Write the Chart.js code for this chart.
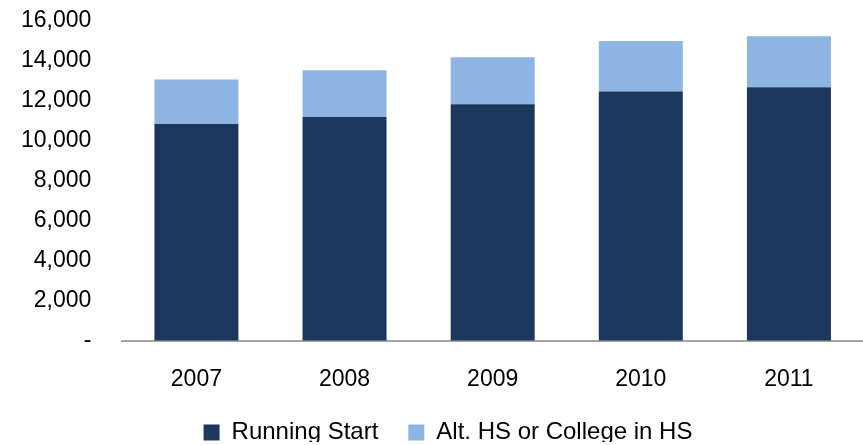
<!DOCTYPE html>
<html>
<head>
<meta charset="utf-8">
<script src="https://cdn.jsdelivr.net/npm/chart.js@4"></script>
<style>
  html, body { margin: 0; padding: 0; background: #fff; }
  #wrap { width: 863px; height: 445px; }
</style>
</head>
<body>
<div id="wrap"><canvas id="myChart"></canvas></div>
<script>
//Years on the x axis
const years = ['2007', '2008', '2009', '2010', '2011'];
//Running Start (dark part of each bar)
const runningStart = [10850, 11200, 11835, 12470, 12685];
//Alt. HS or College in HS (light part stacked on top)
const altHS = [2220, 2335, 2350, 2530, 2550];
//y axis ticks
const yTicks = [0, 2000, 4000, 6000, 8000, 10000, 12000, 14000, 16000];

const COLORS = {
  navy: 'rgb(27, 55, 94)',
  lightblue: 'rgb(142, 180, 227)'
};

Chart.defaults.font.family = "'Liberation Sans', Arial, sans-serif";
Chart.defaults.color = '#000';

//legend padding also spaces the items apart, so keep its box small and nudge it
const legendHeight = 51.4;
const legendShiftY = -3;
const legendShiftX = 6;
const legendFix = {
  id: 'legendFix',
  beforeInit(chart) {
    const fit = chart.legend.fit;
    chart.legend.fit = function() {
      fit.bind(chart.legend)();
      this.height = legendHeight;
    };
  },
  afterLayout(chart) {
    chart.legend.top += legendShiftY;
    chart.legend.bottom += legendShiftY;
    chart.legend.left += legendShiftX;
    chart.legend.right += legendShiftX;
  }
};

const data = {
  labels: years,
  datasets: [
    {
      label: 'Running Start',
      data: runningStart,
      backgroundColor: COLORS.navy
    },
    {
      label: 'Alt. HS or College in HS',
      data: altHS,
      backgroundColor: COLORS.lightblue
    }
  ]
};

const config = {
  type: 'bar',
  data: data,
  options: {
    responsive: true,
    maintainAspectRatio: false,
    animation: false,
    layout: {
      padding: { left: 21, right: 0, top: 21, bottom: 0 }
    },
    datasets: {
      bar: { barPercentage: 0.567, categoryPercentage: 1 }
    },
    scales: {
      x: {
        stacked: true,
        //invisible ticks give the gap under the axis line
        grid: { display: true, drawOnChartArea: false, drawTicks: true, tickLength: 25, tickColor: 'rgba(0,0,0,0)' },
        border: { display: true, color: '#a3a3a3', width: 2 },
        ticks: { padding: 0, font: { size: 23 } }
      },
      y: {
        stacked: true,
        min: 0,
        max: 16000,
        afterBuildTicks: function(axis) {
          axis.ticks = yTicks.map(v => ({ value: v }));
        },
        grid: { display: true, drawOnChartArea: false, drawTicks: true, tickLength: 31, tickColor: 'rgba(0,0,0,0)' },
        border: { display: false },
        ticks: {
          padding: 0,
          font: { size: 23 },
          callback: function(value) {
            if (value == 0) return '-';
            return value.toLocaleString('en-US');
          }
        }
      }
    },
    plugins: {
      tooltip: { enabled: false },
      legend: {
        position: 'bottom',
        labels: {
          boxWidth: 16,
          boxHeight: 16,
          padding: 30,
          font: { size: 24 }
        }
      }
    }
  },
  plugins: [legendFix]
};

const myChart = new Chart(document.getElementById('myChart'), config);
</script>
</body>
</html>
